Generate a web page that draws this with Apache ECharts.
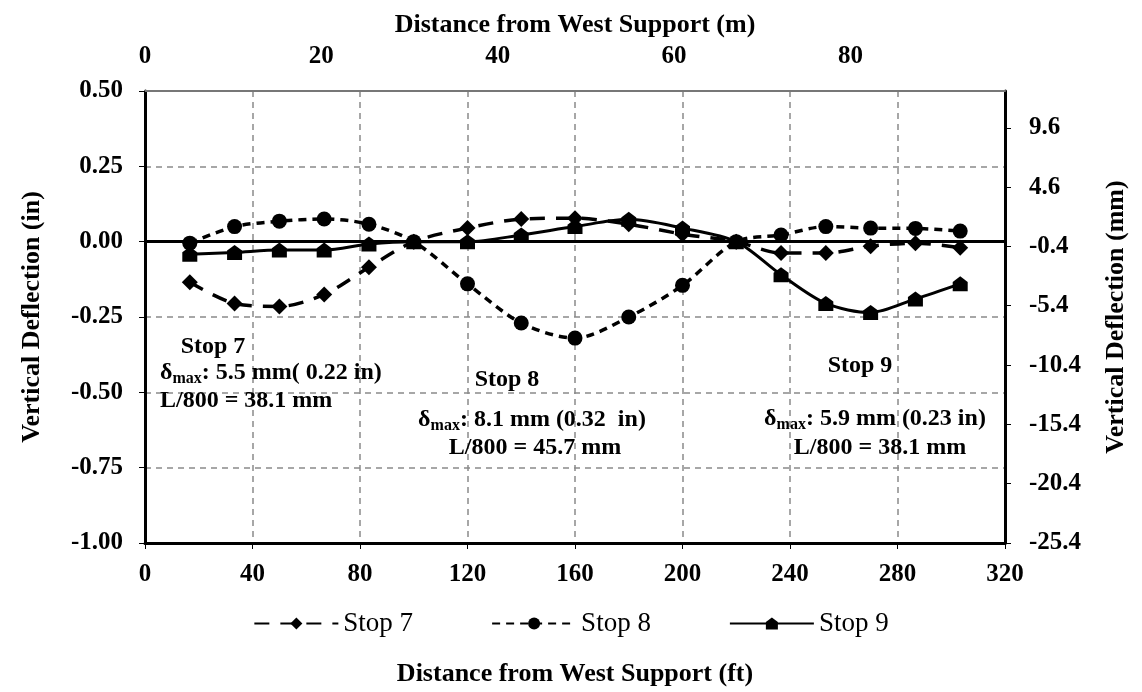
<!DOCTYPE html>
<html>
<head>
<meta charset="utf-8">
<script src="https://cdn.jsdelivr.net/npm/echarts@6/dist/echarts.min.js"></script>
<style>
html,body{margin:0;padding:0;background:#fff;}
#chart{width:1142px;height:692px;}
</style>
</head>
<body>
<div id="chart"></div>
<script>
// Distance from west support (ft)
const xFt = [16.67, 33.33, 50, 66.67, 83.33, 100, 120, 140, 160, 180, 200, 220, 236.67, 253.33, 270, 286.67, 303.33];
// Vertical deflection (in)
const stop7 = [-0.135, -0.205, -0.215, -0.175, -0.085, 0.00, 0.045, 0.075, 0.078, 0.058, 0.025, 0.00, -0.038, -0.038, -0.015, -0.005, -0.02];
const stop8 = [-0.005, 0.05, 0.068, 0.075, 0.058, 0.00, -0.14, -0.27, -0.32, -0.25, -0.145, 0.00, 0.022, 0.05, 0.045, 0.044, 0.035];
const stop9 = [-0.042, -0.036, -0.028, -0.028, -0.008, 0.00, 0.00, 0.022, 0.05, 0.074, 0.045, 0.00, -0.11, -0.205, -0.235, -0.19, -0.14];
const seriesNames = ['Stop 7', 'Stop 8', 'Stop 9'];
const ftMax = 320;
const mMax = 97.536;   // 320 ft in metres
const mmMin = -25.4;   // -1.00 in in mm
const mmRange = 38.1;  // 1.5 in in mm

const FONT = '"Liberation Serif", "Times New Roman", serif';
const pair = (xs, ys) => xs.map((x, i) => [x, ys[i]]);

const chart = echarts.init(document.getElementById('chart'), null, {renderer: 'canvas'});

const gridDash = {color: '#8a8a8a', width: 1.5, type: [6, 5]};
const axisLab = {fontFamily: FONT, fontWeight: 'bold', fontSize: 25, color: '#000'};
const axisName = {fontFamily: FONT, fontWeight: 'bold', fontSize: 26, color: '#000'};

const sub = {fontFamily: FONT, fontWeight: 'bold', fontSize: 16, color: '#000', verticalAlign: 'bottom', lineHeight: 16, padding: [13, 0, 0, 0]};
const txt = {fontFamily: FONT, fontWeight: 'bold', fontSize: 24, color: '#000', lineHeight: 28};

function label(x, y, text, align) {
  return {
    type: 'text', x: x, y: y, z: 100,
    style: {text: text, rich: {b: txt, s: sub}, font: 'bold 24px ' + FONT, fill: '#000',
            align: align || 'left', verticalAlign: 'middle'}
  };
}

const option = {
  animation: false,
  backgroundColor: '#fff',
  grid: {left: 145, right: 137, top: 91, bottom: 146, containLabel: false},
  legend: {
    bottom: 50, left: 'center',
    itemWidth: 84, itemHeight: 15, itemGap: 78,
    textStyle: {fontFamily: FONT, fontSize: 27, color: '#000'},
    data: seriesNames
  },
  xAxis: [
    {
      type: 'value', position: 'bottom', min: 0, max: ftMax, interval: 40,
      name: 'Distance from West Support (ft)', nameLocation: 'middle', nameGap: 118,
      nameTextStyle: axisName,
      axisLine: {show: true, onZero: false, lineStyle: {color: '#000', width: 3}},
      axisTick: {show: true, length: 6, lineStyle: {color: '#000', width: 1}},
      axisLabel: Object.assign({margin: 19}, axisLab),
      splitLine: {show: true, lineStyle: gridDash}
    },
    {
      type: 'value', position: 'top', min: 0, max: mMax, interval: 20,
      name: 'Distance from West Support (m)', nameLocation: 'middle', nameGap: 53,
      nameTextStyle: axisName,
      axisLine: {show: true, onZero: false, lineStyle: {color: '#777', width: 2}},
      axisTick: {show: false},
      axisLabel: Object.assign({margin: 22, showMaxLabel: false}, axisLab),
      splitLine: {show: false}
    }
  ],
  yAxis: [
    {
      type: 'value', position: 'left', min: -1, max: 0.5, interval: 0.25,
      name: 'Vertical Deflection (in)', nameLocation: 'middle', nameGap: 100,
      nameTextStyle: axisName,
      axisLine: {show: true, onZero: false, lineStyle: {color: '#000', width: 3}},
      axisTick: {show: true, length: 6, lineStyle: {color: '#000', width: 1}},
      axisLabel: Object.assign({margin: 22, formatter: v => v.toFixed(2)}, axisLab),
      splitLine: {show: true, lineStyle: gridDash}
    },
    {
      type: 'value', position: 'right', min: 0, max: mmRange, interval: 5,
      name: 'Vertical Deflection (mm)', nameLocation: 'middle', nameGap: 98,
      nameTextStyle: axisName,
      axisLine: {show: true, onZero: false, lineStyle: {color: '#000', width: 3}},
      axisTick: {show: true, length: 6, lineStyle: {color: '#000', width: 1}},
      axisLabel: Object.assign({margin: 24, showMaxLabel: false, formatter: v => (v + mmMin).toFixed(1)}, axisLab),
      splitLine: {show: false}
    }
  ],
  series: [
    {
      name: 'Stop 7', type: 'line', xAxisIndex: 0, yAxisIndex: 0,
      data: pair(xFt, stop7), smooth: 0.3,
      symbol: 'diamond', symbolSize: 16,
      lineStyle: {color: '#000', width: 3.5, type: [15, 11]},
      itemStyle: {color: '#000'}
    },
    {
      name: 'Stop 8', type: 'line', xAxisIndex: 0, yAxisIndex: 0,
      data: pair(xFt, stop8), smooth: 0.3,
      symbol: 'circle', symbolSize: 15,
      lineStyle: {color: '#000', width: 3.5, type: [8, 6]},
      itemStyle: {color: '#000'}
    },
    {
      name: 'Stop 9', type: 'line', xAxisIndex: 0, yAxisIndex: 0,
      data: pair(xFt, stop9), smooth: 0.3,
      symbol: 'path://M0,-10 L9,-3 L9,9 L-9,9 L-9,-3 Z', symbolSize: 15,
      lineStyle: {color: '#000', width: 3},
      itemStyle: {color: '#000'},
      markLine: {
        silent: true, symbol: ['none', 'none'], label: {show: false},
        lineStyle: {color: '#000', width: 3, type: 'solid'},
        data: [{yAxis: 0}]
      }
    }
  ],
  graphic: [
    label(213, 347, '{b|Stop 7}', 'center'),
    label(160, 373, '{b|δ}{s|max}{b|: 5.5 mm( 0.22 in)}'),
    label(160, 401, '{b|L/800 = 38.1 mm}'),
    label(507, 380, '{b|Stop 8}', 'center'),
    label(532, 420, '{b|δ}{s|max}{b|: 8.1 mm (0.32  in)}', 'center'),
    label(535, 448, '{b|L/800 = 45.7 mm}', 'center'),
    label(860, 366, '{b|Stop 9}', 'center'),
    label(875, 419, '{b|δ}{s|max}{b|: 5.9 mm (0.23 in)}', 'center'),
    label(880, 448, '{b|L/800 = 38.1 mm}', 'center')
  ]
};

chart.setOption(option);
</script>
</body>
</html>
